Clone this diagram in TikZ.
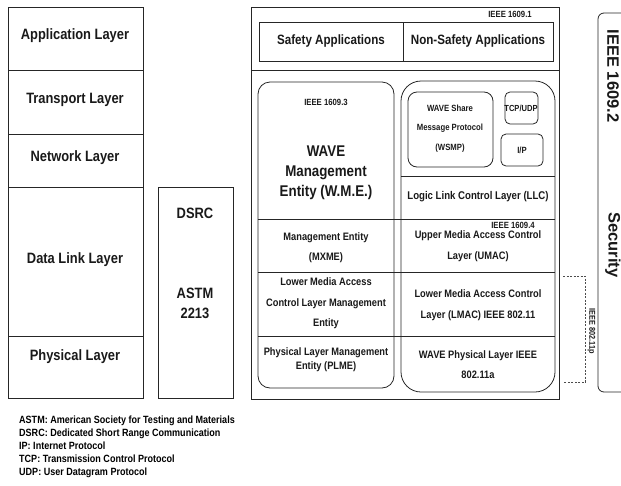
\documentclass[tikz,border=0pt]{standalone}
\usepackage{fontspec}
\setmainfont{Liberation Sans}[FakeStretch=0.86]
\newfontfamily\widefont{Liberation Sans}
\usetikzlibrary{positioning}

\begin{document}
\begin{tikzpicture}[x=1pt, y=-1pt,
    boxline/.style={draw=black!85, line width=0.8pt},
    roundbox/.style={draw=black!85, line width=0.8pt, rounded corners=#1},
    biglabel/.style={font=\bfseries\fontsize{15}{20}\selectfont, align=center, text=black!90},
    midlabel/.style={font=\bfseries\fontsize{10.8}{20.5}\selectfont, align=center, text=black!90},
    smalllabel/.style={font=\bfseries\fontsize{9}{19.5}\selectfont, align=center, text=black!90, inner sep=0pt},
    sidelabel/.style={font=\widefont\bfseries\fontsize{16.5}{18}\selectfont, rotate=-90, text=black!90},
    legendtext/.style={font=\bfseries\fontsize{10.5}{13}\selectfont, align=left, anchor=north west, inner sep=0pt}
]
    \useasboundingbox (0,0) rectangle (621,485);

    % OSI stack
    \draw[boxline] (8,7) rectangle (143,398);
    \foreach \y in {70,134,187,336}
        \draw[boxline] (8,\y) -- (143,\y);
    \node[biglabel] (app) at (75,36) {Application Layer};
    \node[biglabel] (transport) at (75,100) {Transport Layer};
    \node[biglabel] (network) at (75,158) {Network Layer};
    \node[biglabel] (datalink) at (75,260) {Data Link Layer};
    \node[biglabel] (physical) at (75,357) {Physical Layer};

    % DSRC column
    \draw[boxline] (158,187) rectangle (233,398);
    \node[biglabel] (dsrc) at (195,213) {DSRC};
    \node[biglabel] (astm) at (195,303) {ASTM\\2213};

    % WAVE stack
    \draw[boxline] (251,7) rectangle (559,399);
    \draw[boxline] (251,70) -- (559,70);
    \draw[boxline] (259,22) rectangle (553,61);
    \draw[boxline] (403,22) -- (403,61);
    \node[biglabel, font=\bfseries\fontsize{13.5}{16}\selectfont] (safety) at (331,41) {Safety Applications};
    \node[biglabel, font=\bfseries\fontsize{13.5}{16}\selectfont] (nonsafety) at (478,41) {Non-Safety Applications};
    \node[smalllabel] (ieee11) at (510,14) {IEEE 1609.1};

    \draw[roundbox=12pt] (258,82) rectangle (394,388);
    \draw[roundbox=20pt] (401,81) rectangle (555,392);
    \foreach \y in {219,272,336}
        \draw[boxline] (258,\y) -- (555,\y);
    \draw[boxline] (401,176) -- (555,176);
    \draw[roundbox=9pt] (408,92) rectangle (493,167);
    \draw[roundbox=5pt] (505,92) rectangle (538,124);
    \draw[roundbox=5pt] (501,134) rectangle (543,166);

    % management side
    \node[smalllabel] (ieee13) at (326,102) {IEEE 1609.3};
    \node[biglabel, font=\bfseries\fontsize{15.5}{20}\selectfont] (wme) at (326,173) {WAVE\\Management\\Entity (W.M.E.)};
    \node[midlabel] (mxme) at (326,247.5) {Management Entity\\(MXME)};
    \node[midlabel] (lmacme) at (326,303.5) {Lower Media Access\\Control Layer Management\\Entity};
    \node[midlabel, font=\bfseries\fontsize{10.8}{14}\selectfont] (plme) at (326,360) {Physical Layer Management\\Entity (PLME)};

    % data side
    \node[smalllabel] (wsmp) at (450,128.5) {WAVE Share\\Message Protocol\\(WSMP)};
    \node[smalllabel, font=\bfseries\fontsize{8.8}{10}\selectfont] (tcpudp) at (521,108) {TCP/UDP};
    \node[smalllabel] (ip) at (522,150) {I/P};
    \node[midlabel, font=\bfseries\fontsize{11.2}{14}\selectfont] (llc) at (478,197) {Logic Link Control Layer (LLC)};
    \node[smalllabel] (ieee14) at (513,225) {IEEE 1609.4};
    \node[midlabel] (umac) at (478,246) {Upper Media Access Control\\Layer (UMAC)};
    \node[midlabel] (lmac) at (478,305) {Lower Media Access Control\\Layer (LMAC) IEEE 802.11};
    \node[midlabel] (phy) at (478,364.5) {WAVE Physical Layer IEEE\\802.11a};

    % 802.11p bracket
    \coordinate (p1) at (563,276);
    \coordinate (p2) at (585,276);
    \coordinate (p3) at (585,382);
    \coordinate (p4) at (563,382);
    \draw[draw=black!70, line width=0.7pt, dash pattern=on 2pt off 1.5pt] (p1) -- (p2) -- (p3) -- (p4);
    \node[smalllabel, font=\bfseries\fontsize{8.5}{10}\selectfont, rotate=-90] (ieee11p) at (591.5,331) {IEEE 802.11p};

    % security
    \draw[roundbox=6pt] (640,13) -- (598,13) -- (598,392) -- (640,392);
    \node[sidelabel] (ieee12) at (613,76) {IEEE 1609.2};
    \node[sidelabel] (security) at (613,245) {Security};

    % abbreviations
    \node[legendtext] (abbrev) at (19,416) {ASTM: American Society for Testing and Materials\\
        DSRC: Dedicated Short Range Communication\\
        IP: Internet Protocol\\
        TCP: Transmission Control Protocol\\
        UDP: User Datagram Protocol};
\end{tikzpicture}
\end{document}
